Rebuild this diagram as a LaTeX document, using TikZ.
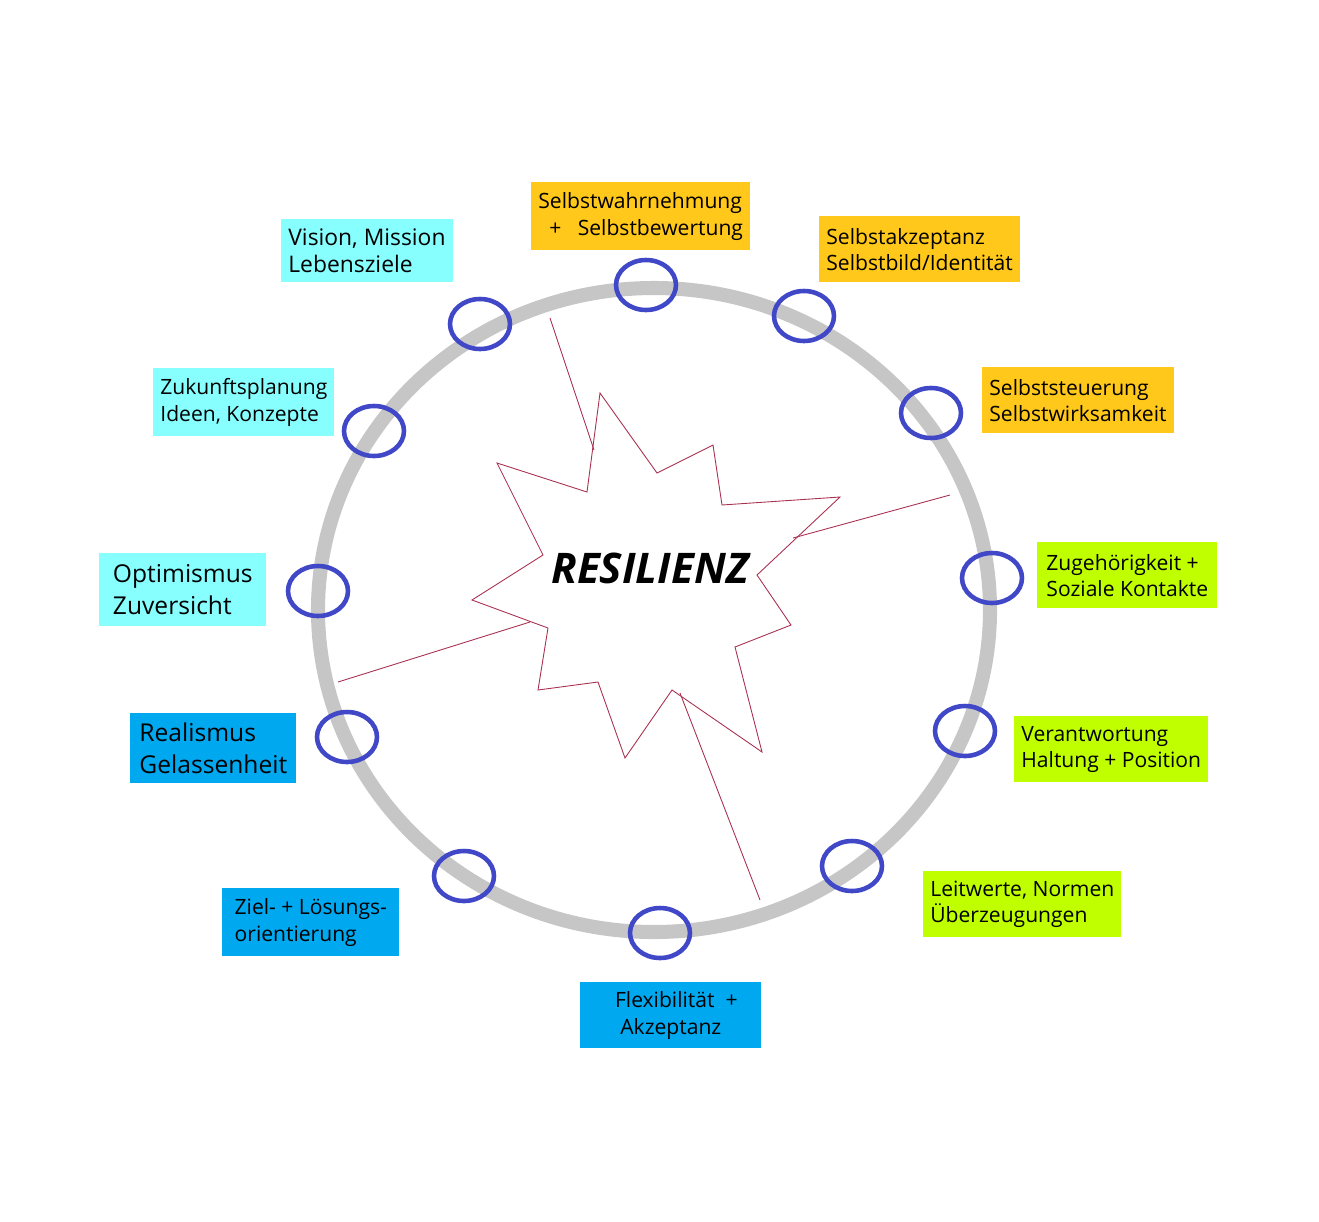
\documentclass[tikz,border=0pt]{standalone}
\usepackage{fontspec}
\setmainfont{Open Sans}
\usetikzlibrary{positioning}
\definecolor{selbst}{HTML}{FFC81A}
\definecolor{sozial}{HTML}{C0FF00}
\definecolor{flex}{HTML}{00A8F0}
\definecolor{vision}{HTML}{88FFFF}
\definecolor{ringblau}{HTML}{4048C8}
\definecolor{sternrot}{HTML}{A83050}
\tikzset{
  feld/.style={fill=#1, inner sep=4pt, align=left, font=\fontsize{12}{15}\selectfont, anchor=north west},
  ring/.style={draw=ringblau, line width=2.6pt, ellipse, minimum width=1.2cm, minimum height=1cm},
  strahl/.style={draw=sternrot, line width=0.5pt}
}
\usetikzlibrary{shapes.geometric}
\begin{document}
\begin{tikzpicture}[x=0.02cm, y=-0.02cm]
		\useasboundingbox (0,0) rectangle (1319,1221);
		% Kreis
		\draw [gray!45, line width=8pt] (654,610) ellipse [x radius=336, y radius=322];
		% Ringe
		\foreach \name/\x/\y in {r1/480/324, r2/646/285, r3/804/316, r4/931/413, r5/992/578, r6/965/731,
		  r7/852/866, r8/660/933, r9/464/876, r10/347/737, r11/318/591, r12/374/431}
		  \node [ring] (\name) at (\x,\y) {};
		% Stern
		\draw [strahl] (600,393) -- (657,473) -- (713,445) -- (722,505) -- (840,497) -- (757,575)
		  -- (791,625) -- (735,647) -- (762,752) -- (672,690) -- (625,758) -- (598,682) -- (538,690)
		  -- (548,628) -- (472,600) -- (543,555) -- (497,463) -- (587,492) -- cycle;
		\node (kern) at (650,568) {\fontsize{24}{30}\selectfont\bfseries\itshape RESILIENZ};
		% Strahlen
		\coordinate (s1) at (594,450); \coordinate (k1) at (550,318);
		\coordinate (s2) at (793,538); \coordinate (k2) at (950,495);
		\coordinate (s3) at (530,622); \coordinate (k3) at (338,682);
		\coordinate (s4) at (680,693); \coordinate (k4) at (760,900);
		\draw [strahl] (s1) -- (k1);
		\draw [strahl] (s2) -- (k2);
		\draw [strahl] (s3) -- (k3);
		\draw [strahl] (s4) -- (k4);
		% Felder
		\node [feld=selbst, minimum width=4.28cm, minimum height=1.36cm] (wahr) at (531,182) {Selbstwahrnehmung\\\ \ +\ \ \ Selbstbewertung};
		\node [feld=selbst, minimum width=3.96cm, minimum height=1.32cm] (akz) at (819,216) {Selbstakzeptanz\\Selbstbild/Identität};
		\node [feld=selbst, minimum width=3.72cm, minimum height=1.32cm] (steu) at (982,367) {Selbststeuerung\\Selbstwirksamkeit};
		\node [feld=sozial, minimum width=3.6cm, minimum height=1.32cm] (zug) at (1037,542) {Zugehörigkeit +\\Soziale Kontakte};
		\node [feld=sozial, minimum width=3.78cm, minimum height=1.32cm] (ver) at (1014,716) {Verantwortung\\Haltung + Position};
		\node [feld=sozial, minimum width=3.64cm, minimum height=1.32cm] (leit) at (923,871) {Leitwerte, Normen\\Überzeugungen};
		\node [feld=flex, minimum width=3.62cm, minimum height=1.32cm, align=center] (flexi) at (580,982) {\ \ Flexibilität\ \ +\\Akzeptanz};
		\node [feld=flex, minimum width=3.54cm, minimum height=1.36cm] (ziel) at (222,888) {Ziel- + Lösungs-\\orientierung};
		\node [feld=flex, minimum width=3.32cm, minimum height=1.4cm, font=\fontsize{14}{18}\selectfont] (real) at (130,713) {Realismus\\Gelassenheit};
		\node [feld=vision, minimum width=3.34cm, minimum height=1.46cm, font=\fontsize{14}{18}\selectfont] (opt) at (99,553) {Optimismus\\Zuversicht};
		\node [feld=vision, minimum width=3.38cm, minimum height=1.36cm] (zuk) at (153,368) {Zukunftsplanung\\Ideen, Konzepte};
		\node [feld=vision, minimum width=3.36cm, minimum height=1.26cm, font=\fontsize{13}{15}\selectfont] (vis) at (281,219) {Vision, Mission\\Lebensziele};
\end{tikzpicture}
\end{document}
